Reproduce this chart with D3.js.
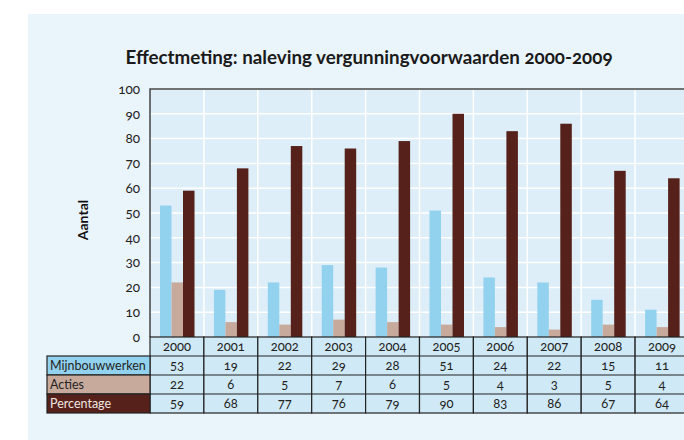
<!DOCTYPE html>
<html>
<head>
<meta charset="utf-8">
<script src="https://cdn.jsdelivr.net/npm/d3@7"></script>
<style>
    body { margin: 0; background: #fff; }
    svg text { font-family: Lato, "Open Sans", sans-serif; font-variant-numeric: oldstyle-nums; }
</style>
</head>
<body>
<div id="chart"></div>
<script>
const years = ['2000', '2001', '2002', '2003', '2004', '2005', '2006', '2007', '2008', '2009'];
const seriesNames = ['Mijnbouwwerken', 'Acties', 'Percentage'];
const mijnbouwwerken = [53, 19, 22, 29, 28, 51, 24, 22, 15, 11];
const acties = [22, 6, 5, 7, 6, 5, 4, 3, 5, 4];
const percentage = [59, 68, 77, 76, 79, 90, 83, 86, 67, 64];
const yTicks = [0, 10, 20, 30, 40, 50, 60, 70, 80, 90, 100];

const colors = ['#93d2ee', '#c8aa9d', '#55211a'];
const labelText = ['#222', '#222', '#f2e6e2'];
const values = [mijnbouwwerken, acties, percentage];

const width = 684, height = 440;
const plot = { left: 150, top: 89, bottom: 337, colW: 53.9 };
const rowH = 19;
const labelLeft = 47;

const svg = d3.select('#chart').append('svg')
    .attr('width', width)
    .attr('height', height);

// panel
svg.append('rect')
    .attr('x', 28).attr('y', 14)
    .attr('width', width).attr('height', 426)
    .attr('fill', '#eaf5fb');

svg.append('text')
    .attr('x', 369).attr('y', 64)
    .attr('text-anchor', 'middle')
    .attr('font-size', 18.8)
    .attr('font-weight', 'bold')
    .attr('fill', '#1a1a1a')
    .text('Effectmeting: naleving vergunningvoorwaarden 2000-2009');

const x = d3.scaleBand()
    .domain(years)
    .range([plot.left, plot.left + plot.colW * years.length]);

const xSub = d3.scaleBand()
    .domain(seriesNames)
    .range([10, 44.5]);

const y = d3.scaleLinear()
    .domain([0, 100])
    .range([plot.bottom, plot.top]);

const plotRight = plot.left + plot.colW * years.length;

svg.append('rect')
    .attr('x', plot.left).attr('y', plot.top)
    .attr('width', plotRight - plot.left).attr('height', plot.bottom - plot.top)
    .attr('fill', '#ddeef8');

// gridlines
svg.append('g')
    .selectAll('line')
    .data(yTicks.slice(1))
    .enter().append('line')
    .attr('x1', plot.left).attr('x2', plotRight)
    .attr('y1', d => y(d)).attr('y2', d => y(d))
    .attr('stroke', '#fff').attr('stroke-width', 1.5);

svg.append('g')
    .selectAll('line')
    .data(years.slice(1))
    .enter().append('line')
    .attr('x1', d => x(d)).attr('x2', d => x(d))
    .attr('y1', plot.top).attr('y2', plot.bottom)
    .attr('stroke', '#fff').attr('stroke-width', 1.5);

// bars
const bars = svg.append('g');
seriesNames.forEach((name, i) => {
    bars.append('g')
        .selectAll('rect')
        .data(years)
        .enter().append('rect')
        .attr('x', d => x(d) + xSub(name))
        .attr('y', (d, j) => y(values[i][j]))
        .attr('width', xSub.bandwidth())
        .attr('height', (d, j) => plot.bottom - y(values[i][j]))
        .attr('fill', colors[i]);
});

// plot border top/left
svg.append('path')
    .attr('d', `M${plot.left},${plot.bottom}V${plot.top}H${plotRight}`)
    .attr('fill', 'none')
    .attr('stroke', '#444')
    .attr('stroke-width', 1.5);

// y axis labels
svg.append('g')
    .selectAll('text')
    .data(yTicks)
    .enter().append('text')
    .attr('x', 140)
    .attr('y', d => y(d))
    .attr('dy', '0.35em')
    .attr('text-anchor', 'end')
    .attr('font-size', 13.5)
    .attr('fill', '#222')
    .text(d => d);

svg.append('text')
    .attr('transform', 'translate(88,220) rotate(-90)')
    .attr('text-anchor', 'middle')
    .attr('font-size', 14)
    .attr('font-weight', 'bold')
    .attr('fill', '#111')
    .text('Aantal');

// table
const table = svg.append('g');

table.selectAll('rect.year')
    .data(years)
    .enter().append('rect')
    .attr('class', 'year')
    .attr('x', d => x(d)).attr('y', plot.bottom)
    .attr('width', x.bandwidth()).attr('height', rowH * 4)
    .attr('fill', '#d0e9f6')
    .attr('stroke', '#222').attr('stroke-width', 1.2);

table.selectAll('text.year')
    .data(years)
    .enter().append('text')
    .attr('class', 'year')
    .attr('x', d => x(d) + x.bandwidth() / 2)
    .attr('y', plot.bottom + rowH / 2)
    .attr('dy', '0.35em')
    .attr('text-anchor', 'middle')
    .attr('font-size', 13)
    .attr('fill', '#222')
    .text(d => d);

seriesNames.forEach((name, i) => {
    const top = plot.bottom + rowH * (i + 1);
    table.append('rect')
        .attr('x', labelLeft).attr('y', top)
        .attr('width', plot.left - labelLeft).attr('height', rowH)
        .attr('fill', colors[i])
        .attr('stroke', '#222').attr('stroke-width', 1.2);
    table.append('text')
        .attr('x', labelLeft + 3).attr('y', top + rowH / 2)
        .attr('dy', '0.35em')
        .attr('font-size', 12.5)
        .attr('fill', labelText[i])
        .text(name);
    table.append('line')
        .attr('x1', plot.left).attr('x2', plotRight)
        .attr('y1', top).attr('y2', top)
        .attr('stroke', '#222').attr('stroke-width', 1.2);
    table.append('g')
        .selectAll('text')
        .data(years)
        .enter().append('text')
        .attr('x', d => x(d) + x.bandwidth() / 2)
        .attr('y', top + rowH / 2)
        .attr('dy', '0.35em')
        .attr('text-anchor', 'middle')
        .attr('font-size', 13)
        .attr('fill', '#222')
        .text((d, j) => values[i][j]);
});
</script>
</body>
</html>
